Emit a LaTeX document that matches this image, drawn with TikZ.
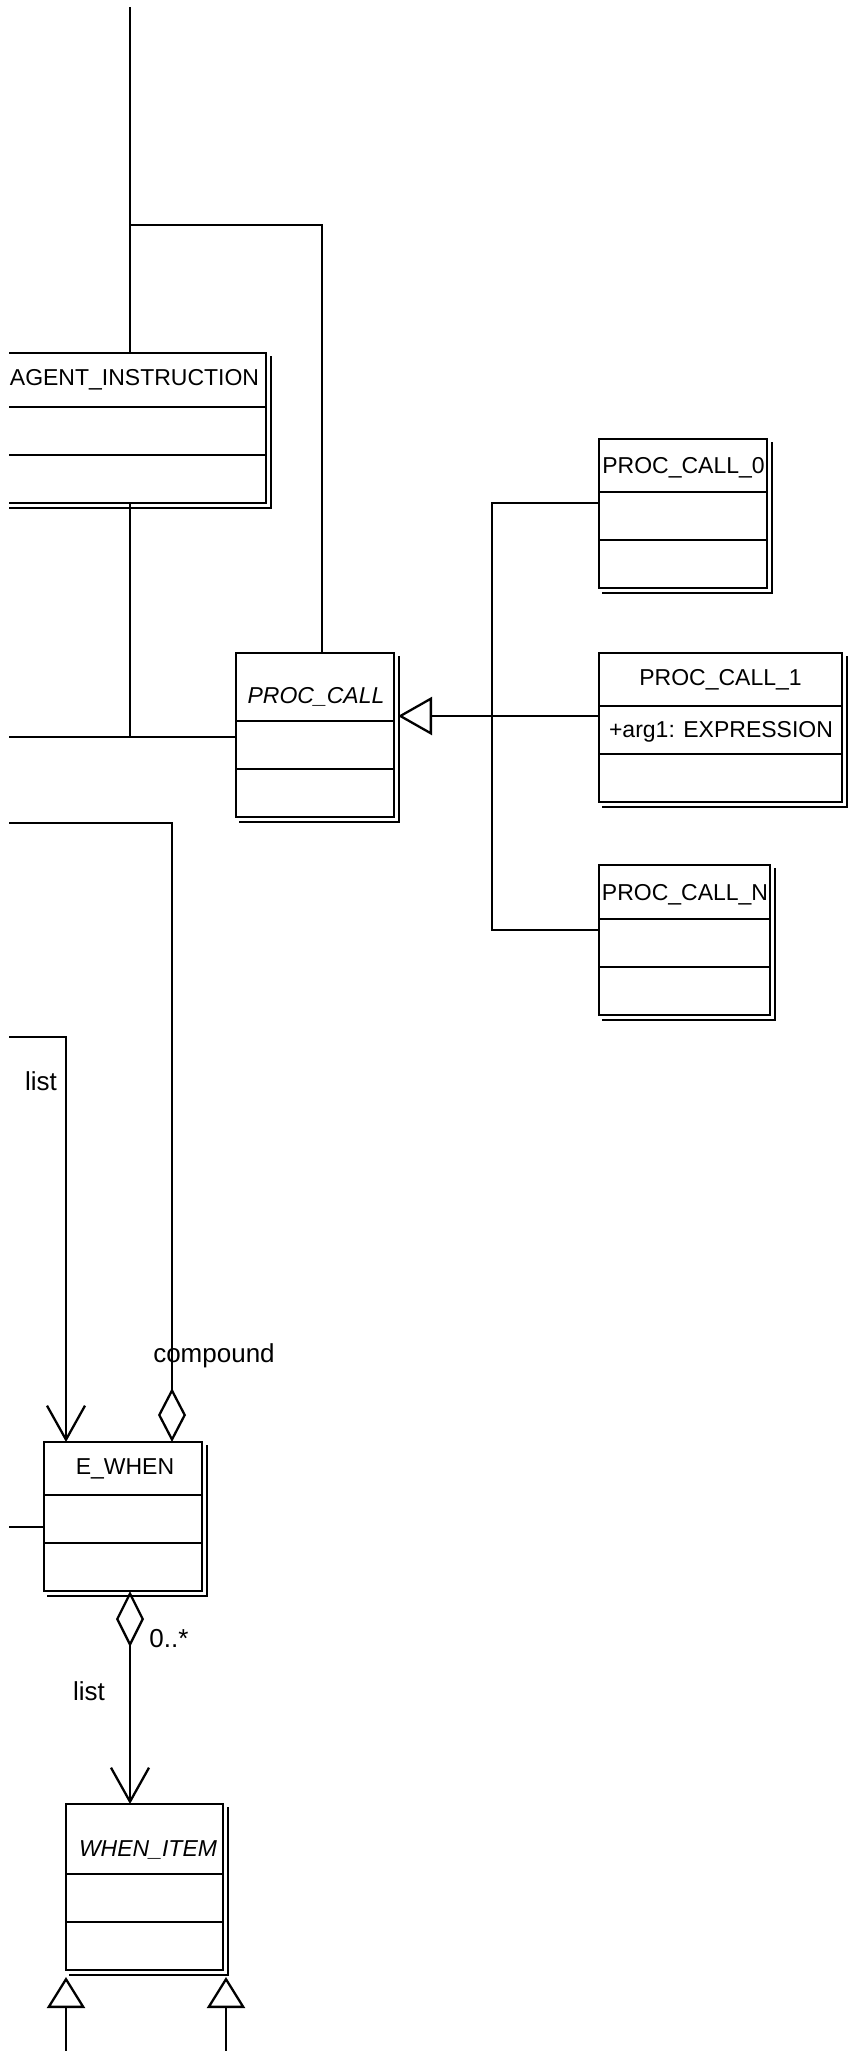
\documentclass[tikz,border=0pt]{standalone}
\usepackage{fontspec}
\setmainfont{Liberation Sans}
\usetikzlibrary{arrows.meta}
\tikzset{
  clsbox/.style={draw, line width=2.3pt, inner sep=0pt, outer sep=0pt},
  sepline/.style={line width=2.3pt},
  shadowline/.style={line width=2.3pt},
  conn/.style={line width=2.3pt},
  cname/.style={font=\fontsize{23}{27}\selectfont, anchor=base, inner sep=0pt},
  cnamei/.style={font=\fontsize{23}{27}\selectfont\itshape, anchor=base, inner sep=0pt},
  lbl/.style={font=\fontsize{26}{30}\selectfont, anchor=base, inner sep=0pt},
  aggtip/.tip={Diamond[open,length=54pt,width=28pt]},
  aggtipb/.tip={Diamond[open,length=56pt,width=28pt]},
  navtip/.tip={Straight Barb[length=34pt,width=38pt]},
  gentip/.tip={Triangle[open,length=34pt,width=38pt]},
  gentipb/.tip={Triangle[open,length=31pt,width=38pt]},
}
% #1 name, #2 left, #3 top, #4 right, #5 bottom, #6 sep1, #7 sep2
\newcommand\umlclassbox[7]{%
  \node[clsbox, minimum width={#4-#2}, minimum height={#5-#3}] (#1) at ({(#2+#4)/2},{(#3+#5)/2}) {};
  \draw[sepline] (#2,#6) -- (#4,#6);
  \draw[sepline] (#2,#7) -- (#4,#7);
  \draw[shadowline] ({#2+3},{#5+5}) -- ({#4+5},{#5+5}) -- ({#4+5},{#3+3});
}
\begin{document}
\begin{tikzpicture}[x=1pt,y=-1pt]
\useasboundingbox (0,0) rectangle (848,2051);
\clip (9,7) rectangle (848,2051);

% class boxes
\umlclassbox{AI}{3}{353}{266}{503}{407}{455}
\umlclassbox{PC}{236}{653}{394}{817}{721}{769}
\umlclassbox{P0}{599}{439}{767}{588}{492}{540}
\umlclassbox{P1}{599}{653}{842}{802}{706}{754}
\umlclassbox{PN}{599}{865}{770}{1015}{919}{967}
\umlclassbox{EW}{44}{1442}{202}{1591}{1495}{1543}
\umlclassbox{WI}{66}{1804}{223}{1970}{1874}{1922}

% class texts
\node[cname] (AIn) at (134.5,385) {AGENT\_INSTRUCTION};
\node[cnamei] (PCn) at (316,703) {PROC\_CALL};
\node[cname] (P0n) at (683.5,473) {PROC\_CALL\_0};
\node[cname] (P1n) at (720.5,685) {PROC\_CALL\_1};
\node[cname] (P1a) at (721,737) {+arg1: EXPRESSION};
\node[cname] (PNn) at (685,900) {PROC\_CALL\_N};
\node[cname] (EWn) at (125,1474) {E\_WHEN};
\node[cnamei] (WIn) at (148,1856) {WHEN\_ITEM};

% connectors at top
\coordinate (top) at (130,0);
\coordinate (j1) at (130,225);
\draw[conn] (top) -- (top |- AI.north);
\draw[conn] (j1) -| ([xshift=7pt]PC.north);
\coordinate (l1) at (0,737);
\draw[conn] (l1) -- (l1 -| PC.west);
\draw[conn] (top |- AI.south) -- (top |- l1);

% generalization to PROC_CALL
\coordinate (g) at (492,716);
\coordinate (gtop) at (492,503);
\coordinate (gbot) at (492,930);
\path (g -| PC.east) ++(4,0) coordinate (gtip);
\draw[conn, -{gentip}] (g -| P1.west) -- (gtip);
\draw[conn] (gtop -| P0.west) -- (gtop) -- (gbot) -- (gbot -| PN.west);

% compound
\coordinate (c1) at (0,823);
\coordinate (c2) at (172,823);
\draw[conn, -{aggtip}] (c1) -- (c2) -- (c2 |- EW.north);
\node[lbl] (labc) at (214,1362) {compound};

% list to E_WHEN
\coordinate (d1) at (0,1037);
\coordinate (d2) at (66,1037);
\draw[conn, -{navtip}] (d1) -- (d2) -- (d2 |- EW.north);
\node[lbl] (lab1) at (41,1090) {list};

% line to E_WHEN left
\coordinate (e1) at (0,1527);
\draw[conn] (e1) -- (e1 -| EW.west);

% E_WHEN to WHEN_ITEM
\coordinate (ex) at (130,0);
\draw[conn, {aggtipb}-{navtip}] (ex |- EW.south) -- (ex |- WI.north);
\node[lbl] (lab3) at (169,1647) {0..*};
\node[lbl] (lab4) at (89,1700) {list};

% generalizations to WHEN_ITEM
\coordinate (b1) at (66,2051);
\coordinate (b2) at (226,2051);
\path (b1 |- WI.south) ++(0,7) coordinate (b1t);
\path (b2 |- WI.south) ++(0,7) coordinate (b2t);
\draw[conn, -{gentipb}] (b1) -- (b1t);
\draw[conn, -{gentipb}] (b2) -- (b2t);
\end{tikzpicture}
\end{document}
